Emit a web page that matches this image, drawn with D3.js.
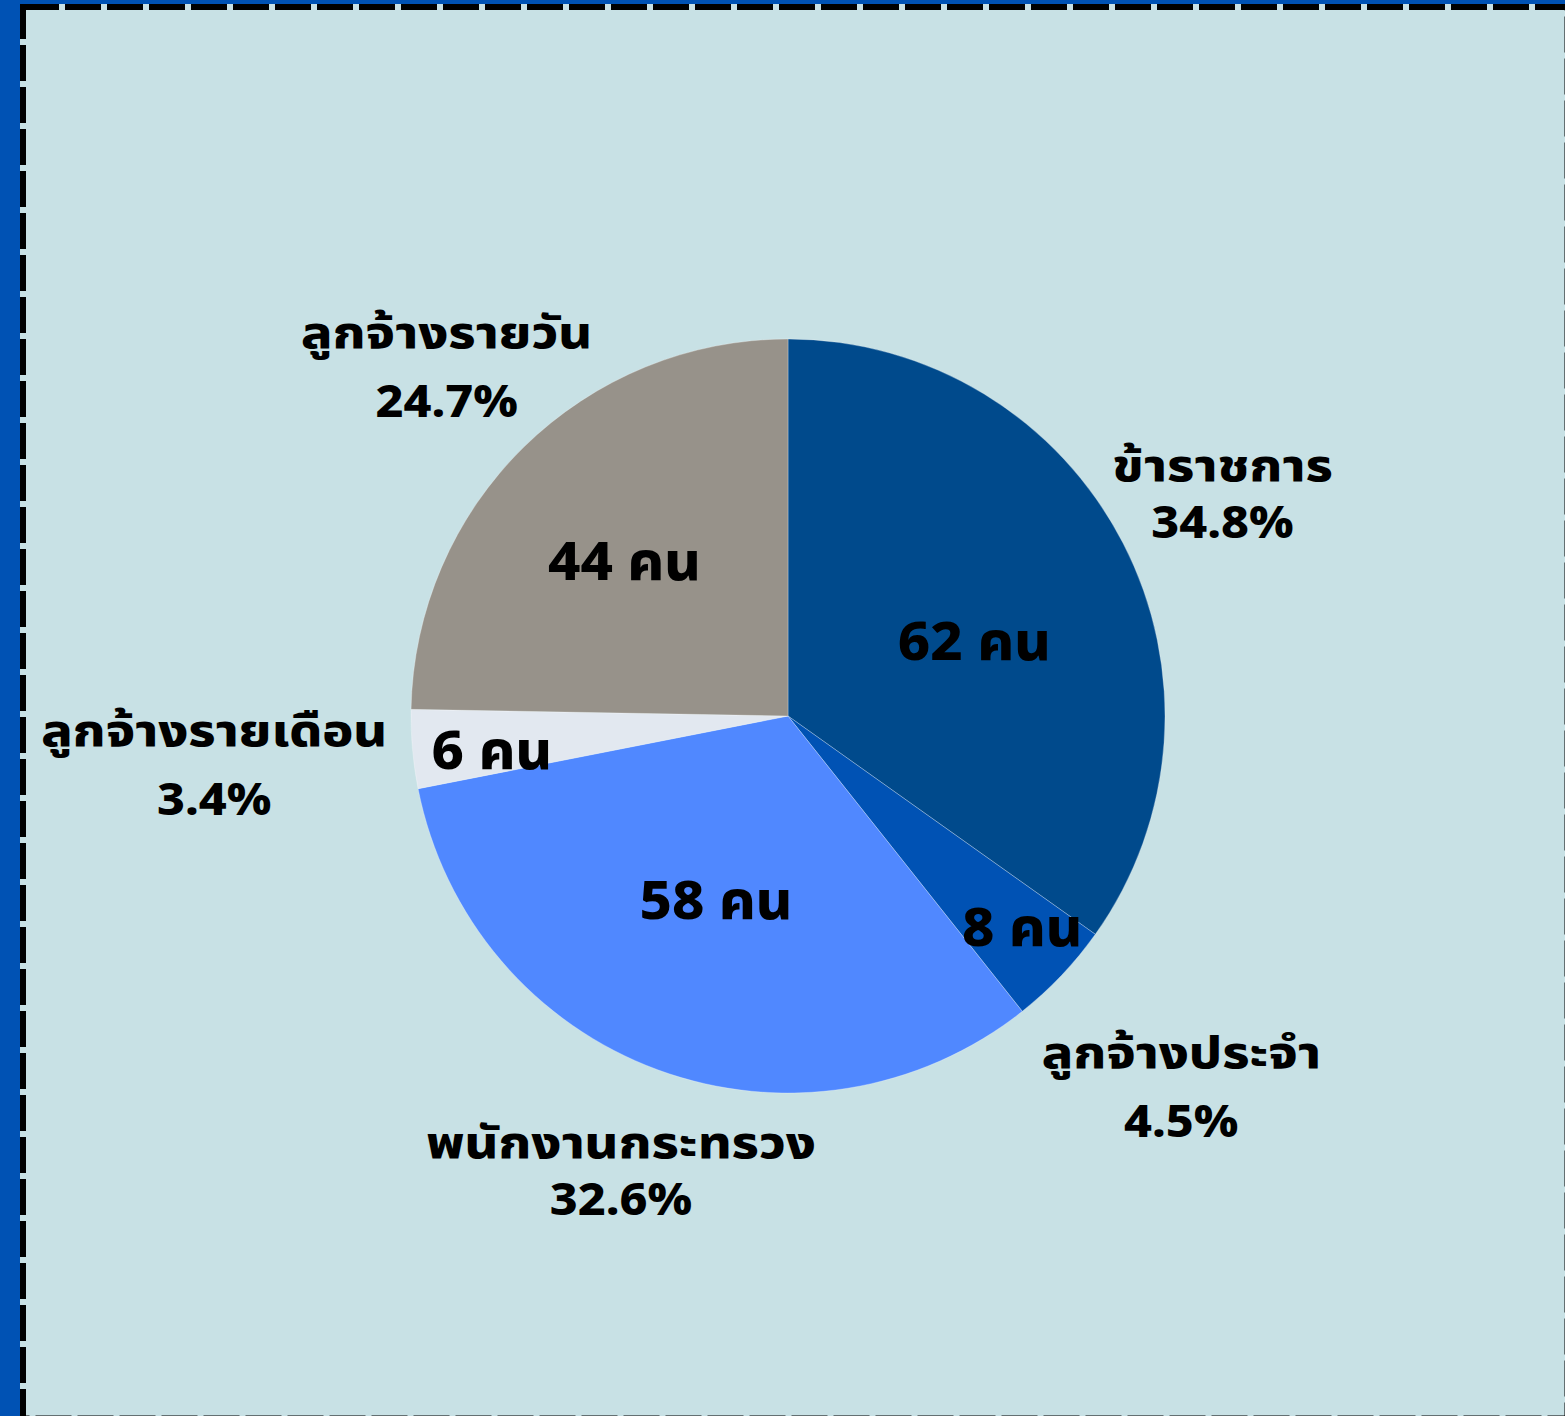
<!doctype html>
<html>
<head>
    <meta charset="utf-8">
    <title>Staff pie</title>
    <script src="https://cdn.jsdelivr.net/npm/d3@7"></script>
    <style>
        body { margin: 0; background: #c8e1e5; }
        svg { display: block; }
        text {
            font-family: "Noto Sans Thai", "Noto Sans", sans-serif;
            font-weight: 800;
            fill: #000;
            text-anchor: middle;
        }
    </style>
</head>
<body>
<script>
    "use strict";

    // data
    const categories = ["ข้าราชการ", "ลูกจ้างประจำ", "พนักงานกระทรวง", "ลูกจ้างรายเดือน", "ลูกจ้างรายวัน"];
    const counts = [62, 8, 58, 6, 44];
    const colors = ["#004a8c", "#0052b4", "#5088ff", "#e2e8f0", "#97928a"];

    // layout tweaks for labels (radius from centre, angle nudge in degrees)
    const innerLabelR = [201, 315, 198, 298, 225];
    const innerLabelNudge = [5.3, -1.5, 1.1, -1.4, -2.1];
    const outerLabelR = [489, 542, 483, 576, 487];

    const width = 1565;
    const height = 1416;
    const cx = 788, cy = 716, radius = 377;

    const total = d3.sum(counts);
    const data = categories.map((name, i) => ({name, value: counts[i], color: colors[i], i}));

    const svg = d3.select("body").append("svg")
        .attr("width", width)
        .attr("height", height);

    svg.append("rect")
        .attr("width", width).attr("height", height)
        .attr("fill", "#c8e1e5");

    // frame: blue band left and top, dashed black line
    svg.append("rect").attr("x", 0).attr("y", 0).attr("width", 20).attr("height", height).attr("fill", "#0052b4");
    svg.append("rect").attr("x", 0).attr("y", 0).attr("width", width).attr("height", 4).attr("fill", "#0052b4");
    svg.append("rect")
        .attr("x", 23).attr("y", 7)
        .attr("width", width - 23 + 2.5).attr("height", height - 7 + 2.5)
        .attr("fill", "none")
        .attr("stroke", "#000")
        .attr("stroke-width", 6)
        .attr("stroke-dasharray", "36 6");

    const pie = d3.pie().value(d => d.value).sort(null);
    const arcs = pie(data);
    const arc = d3.arc().innerRadius(0).outerRadius(radius);

    const g = svg.append("g").attr("transform", `translate(${cx},${cy})`);

    g.selectAll("path")
        .data(arcs)
        .join("path")
        .attr("d", arc)
        .attr("fill", d => d.data.color)
        .attr("stroke", "rgba(255,255,255,0.35)")
        .attr("stroke-width", 0.8);

    const mid = d => (d.startAngle + d.endAngle) / 2;
    const polar = (a, r) => [Math.sin(a) * r, -Math.cos(a) * r];

    // counts inside slices
    g.selectAll("g.count")
        .data(arcs)
        .join("g")
        .attr("class", "count")
        .attr("transform", d => {
            const [x, y] = polar(mid(d) + innerLabelNudge[d.data.i] * Math.PI / 180, innerLabelR[d.data.i]);
            return `translate(${x},${y + 19}) scale(1.06,1)`;
        })
        .append("text")
        .attr("font-size", 53)
        .text(d => `${d.data.value} คน`);

    // category + percent outside
    const outer = g.selectAll("g.lab")
        .data(arcs)
        .join("g")
        .attr("class", "lab")
        .attr("transform", d => {
            const [x, y] = polar(mid(d), outerLabelR[d.data.i]);
            return `translate(${x},${y})`;
        });

    const lowVowel = s => /[ุู]/.test(s);

    outer.append("text")
        .attr("font-size", 44)
        .attr("transform", d => `translate(0,${lowVowel(d.data.name) ? -21 : -11}) scale(1.18,1)`)
        .text(d => d.data.name);

    outer.append("text")
        .attr("font-size", 44)
        .attr("transform", d => `translate(0,${lowVowel(d.data.name) ? 48 : 46}) scale(1.1,1)`)
        .text(d => `${(d.data.value / total * 100).toFixed(1)}%`);
</script>
</body>
</html>
